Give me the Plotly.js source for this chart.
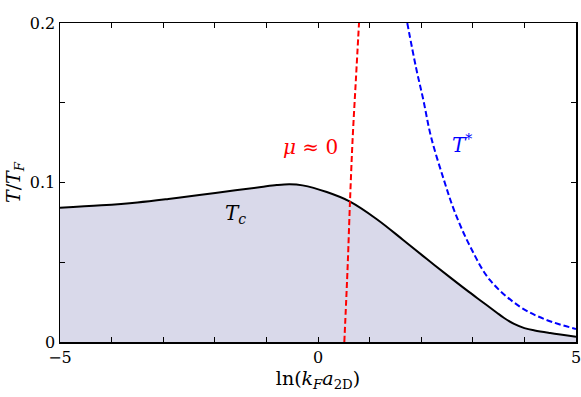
<!DOCTYPE html>
<html>
<head>
<meta charset="utf-8">
<script src="https://cdn.plot.ly/plotly-3.0.1.min.js"></script>
<style>
  html, body { margin: 0; padding: 0; background: #ffffff; }
  #chart { width: 581px; height: 397px; }
</style>
</head>
<body>
<div id="chart"></div>
<script>
// critical temperature T_c (shaded region underneath)
const tcX = [-5, -4.2, -3.5, -2.9, -2.3, -1.6, -1.1, -0.8, -0.55, -0.3, 0.17, 0.62, 1.14, 1.65, 2.11, 2.56, 2.88, 3.2, 3.46, 3.6, 3.8, 4.0, 4.2, 4.5, 5];
const tcY = [0.0842, 0.0857, 0.0875, 0.0897, 0.0922, 0.0951, 0.0972, 0.0984, 0.0989, 0.0982, 0.094, 0.088, 0.077, 0.064, 0.052, 0.0405, 0.0325, 0.0248, 0.0185, 0.0152, 0.0113, 0.0087, 0.0072, 0.0056, 0.0033];

// mu ~ 0 line
const muX = [0.51, 0.545, 0.578, 0.62, 0.672, 0.735, 0.795];
const muY = [0, 0.025, 0.05, 0.088, 0.128, 0.165, 0.2];

// pairing temperature T*
const tsX = [1.73, 1.9, 2.04, 2.19, 2.44, 2.66, 2.95, 3.33, 3.91, 4.43, 5.0];
const tsY = [0.2, 0.172, 0.152, 0.1287, 0.1016, 0.0807, 0.0598, 0.0389, 0.0222, 0.0138, 0.0082];

const xTicks = [-5, -4, -3, -2, -1, 0, 1, 2, 3, 4, 5];
const xTickText = ["\u22125", "", "", "", "", "0", "", "", "", "", "5"];
const yTicks = [0, 0.05, 0.1, 0.15, 0.2];
const yTickText = ["0", "", "0.1", "", "0.2"];

const serif = "DejaVu Serif";

const traces = [
  {
    type: "scatter",
    mode: "lines",
    x: tcX,
    y: tcY,
    fill: "tozeroy",
    fillcolor: "#d9d9ea",
    line: { color: "#000000", width: 2, shape: "spline", smoothing: 1 },
    hoverinfo: "skip"
  },
  {
    type: "scatter",
    mode: "lines",
    x: muX,
    y: muY,
    line: { color: "#ff0000", width: 2, dash: "6px,3px", shape: "spline" },
    hoverinfo: "skip"
  },
  {
    type: "scatter",
    mode: "lines",
    x: tsX,
    y: tsY,
    line: { color: "#0000ff", width: 2, dash: "6px,3px", shape: "spline" },
    hoverinfo: "skip"
  }
];

const axisCommon = {
  showline: true,
  linecolor: "#000000",
  linewidth: 1.5,
  mirror: "allticks",
  ticks: "inside",
  ticklen: 5,
  tickwidth: 1,
  tickcolor: "#000000",
  showgrid: false,
  zeroline: false,
  ticklabeloverflow: "allow",
  tickfont: { family: serif, size: 16, color: "#000000" }
};

const layout = {
  width: 581,
  height: 397,
  paper_bgcolor: "#ffffff",
  plot_bgcolor: "#ffffff",
  showlegend: false,
  margin: { l: 60, r: 5, t: 23, b: 55 },
  font: { family: serif, size: 16, color: "#000000" },
  xaxis: Object.assign({}, axisCommon, {
    range: [-5, 5],
    tickmode: "array",
    tickvals: xTicks,
    ticktext: xTickText,
    ticklabelstandoff: 0,
    title: {
      text: "ln(<i>k</i><sub><i>F</i></sub><i>a</i><sub>2D</sub>)",
      font: { family: serif, size: 19, color: "#000000" },
      standoff: 6
    }
  }),
  yaxis: Object.assign({}, axisCommon, {
    range: [0, 0.2],
    tickmode: "array",
    tickvals: yTicks,
    ticktext: yTickText,
    ticklabelstandoff: 0,
    title: {
      text: "<i>T</i>/<i>T</i><sub><i>F</i></sub>",
      font: { family: serif, size: 19, color: "#000000" },
      standoff: 4
    }
  }),
  annotations: [
    {
      x: -1.6, y: 0.080, xref: "x", yref: "y",
      text: "<i>T</i><sub><i>c</i></sub>",
      showarrow: false,
      font: { family: serif, size: 20, color: "#000000" }
    },
    {
      x: -0.15, y: 0.122, xref: "x", yref: "y",
      text: "<i>\u03bc</i> \u2248 0",
      showarrow: false,
      font: { family: serif, size: 20, color: "#ff0000" }
    },
    {
      x: 2.8, y: 0.124, xref: "x", yref: "y",
      text: "<i>T</i><sup>*</sup>",
      showarrow: false,
      font: { family: serif, size: 20, color: "#0000ff" }
    }
  ]
};

Plotly.newPlot("chart", traces, layout, { displayModeBar: false, staticPlot: true });
</script>
</body>
</html>
